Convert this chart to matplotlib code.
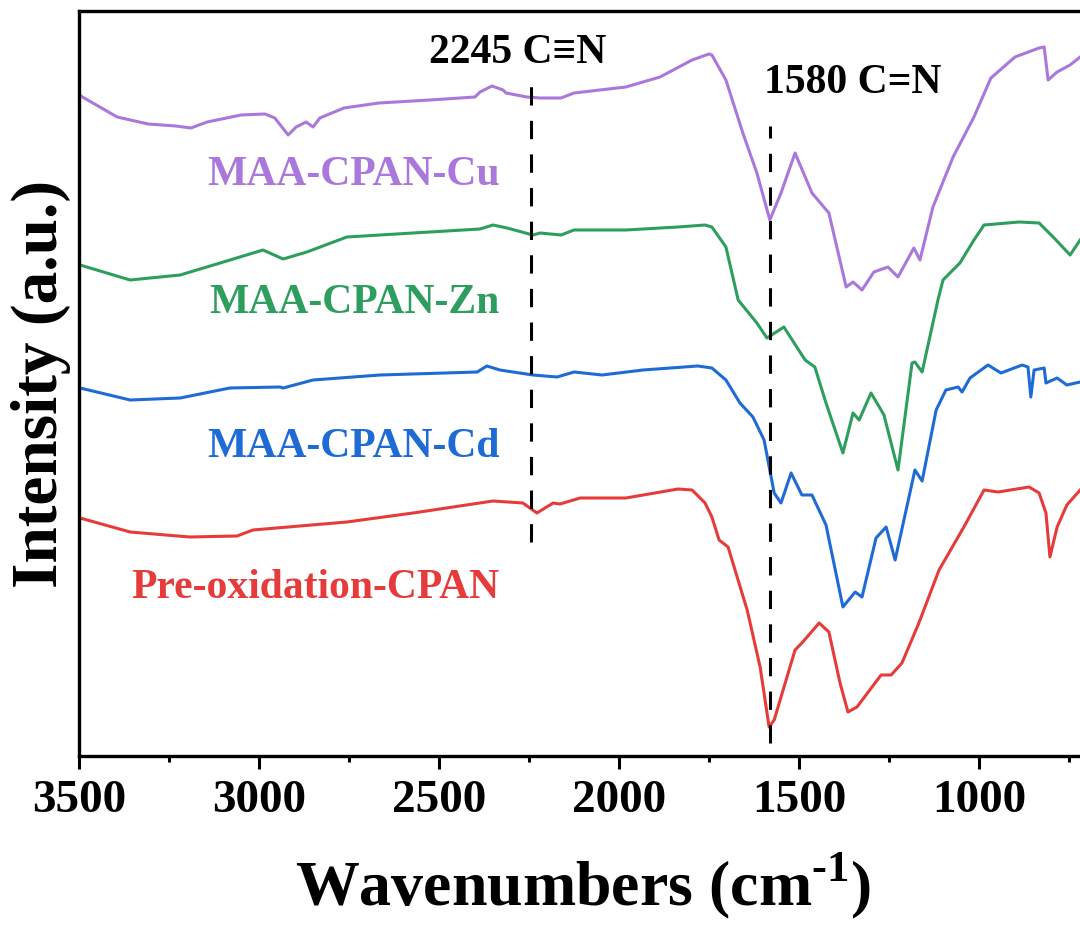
import matplotlib
matplotlib.use("Agg")
import matplotlib.pyplot as plt
from matplotlib.ticker import MultipleLocator

plt.rcParams['font.family'] = ['Liberation Serif', 'DejaVu Serif']
plt.rcParams['font.weight'] = 'bold'
plt.rcParams['mathtext.fontset'] = 'custom'
plt.rcParams['mathtext.rm'] = 'Liberation Serif:bold'
plt.rcParams['mathtext.bf'] = 'Liberation Serif:bold'

# FTIR spectra (wavenumber in cm^-1, intensity in arbitrary units, already offset)
cu_wn = [3500, 3394, 3308, 3231, 3189, 3144, 3050, 2983, 2956, 2919, 2897, 2869, 2850, 2831,
         2764, 2667, 2525, 2400, 2386, 2353, 2322, 2314, 2256, 2219, 2161, 2125, 2053, 1981,
         1886, 1797, 1750, 1742, 1703, 1656, 1617, 1581, 1550, 1511, 1464, 1417, 1369, 1350,
         1325, 1292, 1253, 1225, 1181, 1164, 1128, 1072, 1014, 967, 900, 833, 819, 808, 783,
         747, 719]
cu_int = [661, 639, 632, 630, 628, 634, 641, 642, 638, 621, 629, 634, 629, 638,
          648, 653, 656, 659, 664, 670, 666, 663, 659, 658, 658, 663, 666, 669,
          679, 696, 702, 701, 676, 623, 583, 536, 563, 603, 563, 543, 469, 474,
          466, 484, 489, 479, 508, 496, 549, 599, 639, 678, 699, 708, 709, 676, 684,
          691, 699]

zn_wn = [3497, 3358, 3219, 3108, 2989, 2933, 2867, 2756, 2572, 2386, 2350, 2311, 2239, 2219,
         2161, 2125, 1981, 1836, 1761, 1742, 1703, 1669, 1617, 1589, 1542, 1483, 1456, 1425,
         1378, 1350, 1333, 1300, 1272, 1264, 1225, 1186, 1178, 1158, 1114, 1100, 1053, 1014,
         986, 889, 833, 822, 794, 747, 719]
zn_int = [491, 476, 481, 493, 506, 497, 504, 519, 523, 527, 531, 528, 521, 523,
          521, 526, 526, 529, 531, 529, 509, 456, 433, 418, 429, 396, 389, 353,
          303, 343, 336, 363, 346, 341, 286, 393, 394, 384, 456, 476, 493, 516,
          531, 534, 533, 529, 519, 501, 516]

cd_wn = [3497, 3358, 3219, 3081, 2942, 2933, 2850, 2664, 2394, 2367, 2331, 2239, 2172, 2125,
         2047, 1933, 1781, 1742, 1703, 1664, 1628, 1597, 1569, 1550, 1522, 1492, 1464, 1425,
         1378, 1344, 1325, 1286, 1258, 1233, 1178, 1158, 1119, 1092, 1058, 1047, 1025, 975,
         939, 880, 864, 856, 847, 819, 814, 783, 756, 719]
cd_int = [368, 356, 358, 368, 369, 368, 376, 381, 384, 390, 386, 381, 379, 384,
          381, 386, 390, 388, 376, 353, 339, 316, 263, 253, 283, 261, 261, 231,
          149, 164, 159, 218, 229, 196, 286, 275, 346, 366, 369, 364, 378, 391,
          383, 391, 389, 359, 386, 388, 373, 378, 371, 374]

pre_wn = [3497, 3358, 3192, 3061, 3017, 2756, 2572, 2350, 2267, 2228, 2183, 2164, 2108, 1981,
          1836, 1797, 1761, 1742, 1722, 1697, 1644, 1608, 1583, 1569, 1511, 1492, 1444, 1417,
          1386, 1364, 1339, 1272, 1244, 1214, 1167, 1111, 1042, 986, 947, 861, 833, 814, 803,
          783, 756, 719]
pre_int = [238, 224, 219, 220, 226, 234, 243, 255, 253, 243, 253, 252, 258, 258,
           267, 266, 253, 239, 216, 209, 146, 89, 29, 36, 106, 113, 133, 124,
           73, 44, 49, 81, 81, 93, 133, 186, 229, 266, 264, 269, 263, 243, 199,
           229, 251, 266]

series_names = ['MAA-CPAN-Cu', 'MAA-CPAN-Zn', 'MAA-CPAN-Cd', 'Pre-oxidation-CPAN']
series_colors = ['#AA78DC', '#2E9E5E', '#1F6BD6', '#E63B3B']
series_wn = [cu_wn, zn_wn, cd_wn, pre_wn]
series_int = [cu_int, zn_int, cd_int, pre_int]
label_baseline = [571, 443, 299, 158]

peak_positions = [2245, 1580]
peak_labels = ['2245 C\u2261N', '1580 C=N']
peak_spans = [(214, 681), (13, 630)]
peak_text_y = [693, 663]
peak_text_x = [2281, 1350]

x_ticks = [3500, 3000, 2500, 2000, 1500, 1000]

W, H = 1080, 934
fig = plt.figure(figsize=(W / 100, H / 100), dpi=100)
ax = fig.add_axes([79 / W, (H - 756) / H, 1008 / W, 745 / H])

for wn, inten, col in zip(series_wn, series_int, series_colors):
    ax.plot(wn, inten, color=col, lw=2.2, solid_joinstyle='round')

for pos, (y0, y1) in zip(peak_positions, peak_spans):
    ax.plot([pos, pos], [y0, y1], color='black', lw=2.2, dashes=(6, 5))

for txt, tx, ty in zip(peak_labels, peak_text_x, peak_text_y):
    ax.text(tx, ty, txt, fontsize=30, fontweight='bold', ha='center', va='baseline',
            color='black')

for name, col, yb in zip(series_names, series_colors, label_baseline):
    ax.text(2331, yb, name, fontsize=30, fontweight='bold', ha='right', va='baseline',
            color=col)

ax.set_xlim(3500, 700)
ax.set_ylim(0, 745)
ax.set_xticks(x_ticks)
ax.set_xticklabels([str(t) for t in x_ticks])
ax.xaxis.set_minor_locator(MultipleLocator(250))
ax.set_yticks([])
ax.tick_params(axis='x', which='major', direction='out', length=9.5, width=2.2,
               labelsize=34, pad=8)
ax.tick_params(axis='x', which='minor', direction='out', length=4.5, width=2.2)
for lab in ax.get_xticklabels():
    lab.set_fontweight('bold')

for side in ['left', 'bottom', 'top']:
    ax.spines[side].set_linewidth(2.4)
ax.spines['right'].set_visible(False)

ax.set_xlabel(r'Wavenumbers (cm$^{\text{-1}}$)', fontsize=46, fontweight='bold', labelpad=20)
ax.set_ylabel('Intensity (a.u.)', fontsize=47, fontweight='bold', labelpad=6)

fig.savefig('out.png', dpi=100)
